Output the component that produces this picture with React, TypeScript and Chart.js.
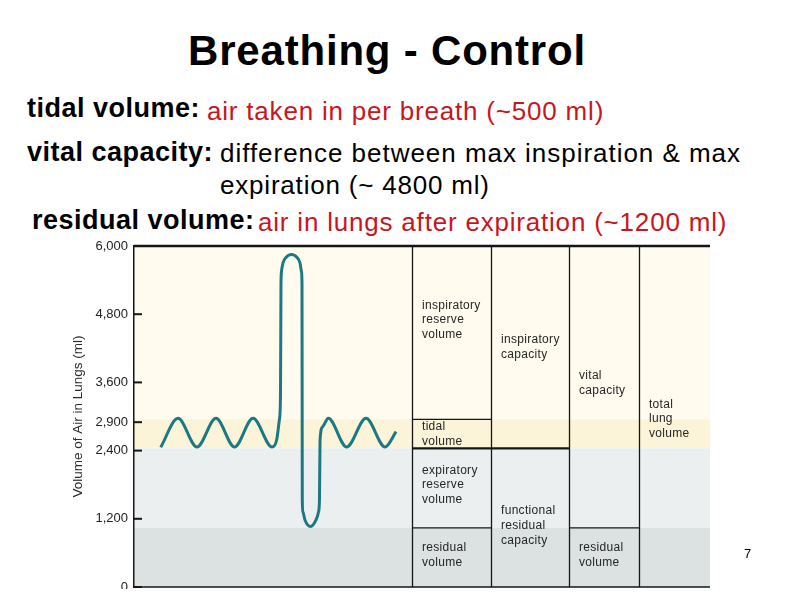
import React, { useEffect, useRef } from "react";
import { Chart, registerables } from "chart.js";

Chart.register(...registerables);

// ---- data ----
const yTickValues = [0, 1200, 2400, 2900, 3600, 4800, 6000];

// spirometer trace: time (s) and lung volume (ml)
const traceTime = [
  2.78, 4.58, 6.56, 8.54, 10.47, 12.4, 14.38, 14.86, 15.14, 15.26, 15.31, 15.36,
  15.52, 15.83, 16.41, 16.98, 17.29, 17.45, 17.5, 17.53, 17.6, 17.81, 18.39,
  18.96, 19.22, 19.32, 19.38, 19.66, 20.24, 22.15, 24.17, 26.15, 27.3,
];
const traceVolume = [
  2458, 2968, 2463, 2968, 2463, 2968, 2463, 2587, 2939, 3378, 5314, 5543, 5701,
  5798, 5851, 5798, 5701, 5543, 5314, 1531, 1320, 1179, 1065, 1179, 1320, 1531,
  2587, 2821, 2968, 2463, 2968, 2463, 2733,
];

// shaded bands (volume boundaries, ml)
const bandEdges = [6000, 2950, 2440, 1040, 0];

// table columns (time positions of column borders)
const columnEdges = [28.96, 37.19, 45.31, 52.6, 60];

// horizontal dividers inside the table
const dividerFromCol = [0, 0, 0, 2];
const dividerToCol = [0, 1, 0, 2];
const dividerVolume = [2950, 2440, 1040, 1040];
const dividerHeavy = [false, true, false, false];

// labels in the table
const labelColumn = [0, 0, 0, 0, 1, 1, 2, 2, 3];
const labelVolume = [4700, 2690, 1795, 563, 4223, 1079, 3583, 563, 2956];
const labelLines = [
  ["inspiratory", "reserve", "volume"],
  ["tidal", "volume"],
  ["expiratory", "reserve", "volume"],
  ["residual", "volume"],
  ["inspiratory", "capacity"],
  ["functional", "residual", "capacity"],
  ["vital", "capacity"],
  ["residual", "volume"],
  ["total", "lung", "volume"],
];

// ---- styles ----
const BAND_COLORS = ["#fffcef", "#fcf4d8", "#ebeff0", "#dce1e2"];
const TRACE_COLOR = "#1c7883";
const FONT = '"Liberation Sans", Arial, sans-serif';
const RED = "#c8161d";

const fmt = (v: number) => String(v).replace(/\B(?=(\d{3})+(?!\d))/g, ",");

const diagramPlugin = {
  id: "diagram",
  beforeDraw(chart: any) {
    const { ctx, chartArea, scales } = chart;
    const y = scales.y;
    ctx.save();
    for (let i = 0; i < BAND_COLORS.length; i++) {
      const y0 = y.getPixelForValue(bandEdges[i]);
      const y1 = y.getPixelForValue(bandEdges[i + 1]);
      ctx.fillStyle = BAND_COLORS[i];
      ctx.fillRect(chartArea.left, y0, chartArea.right - chartArea.left, y1 - y0);
    }
    ctx.restore();
  },
  afterDatasetsDraw(chart: any) {
    const { ctx, chartArea, scales } = chart;
    const x = scales.x;
    const y = scales.y;
    ctx.save();
    ctx.strokeStyle = "#161616";
    ctx.lineWidth = 1.3;
    for (let i = 0; i < columnEdges.length - 1; i++) {
      const px = Math.round(x.getPixelForValue(columnEdges[i])) + 0.5;
      ctx.beginPath();
      ctx.moveTo(px, chartArea.top);
      ctx.lineTo(px, chartArea.bottom);
      ctx.stroke();
    }
    for (let i = 0; i < dividerVolume.length; i++) {
      const x0 = x.getPixelForValue(columnEdges[dividerFromCol[i]]);
      const x1 = x.getPixelForValue(columnEdges[dividerToCol[i] + 1]);
      const py = y.getPixelForValue(dividerVolume[i]);
      ctx.lineWidth = dividerHeavy[i] ? 2.4 : 1.2;
      ctx.beginPath();
      ctx.moveTo(x0, py);
      ctx.lineTo(x1, py);
      ctx.stroke();
    }
    ctx.lineWidth = 2.6;
    let py = y.getPixelForValue(6000);
    ctx.beginPath();
    ctx.moveTo(chartArea.left, py);
    ctx.lineTo(chartArea.right, py);
    ctx.stroke();
    ctx.lineWidth = 1.5;
    py = y.getPixelForValue(0);
    ctx.beginPath();
    ctx.moveTo(chartArea.left, py);
    ctx.lineTo(chartArea.right, py);
    ctx.stroke();
    ctx.lineWidth = 2;
    for (const v of yTickValues) {
      const ty = y.getPixelForValue(v);
      ctx.beginPath();
      ctx.moveTo(chartArea.left - 1, ty);
      ctx.lineTo(chartArea.left + 8, ty);
      ctx.stroke();
    }
    ctx.fillStyle = "#262626";
    ctx.font = `12px ${FONT}`;
    (ctx as any).letterSpacing = "0.3px";
    ctx.textAlign = "left";
    ctx.textBaseline = "middle";
    const lh = 14.6;
    for (let i = 0; i < labelLines.length; i++) {
      const lines = labelLines[i];
      const lx = x.getPixelForValue(columnEdges[labelColumn[i]]) + 10;
      const cy = y.getPixelForValue(labelVolume[i]);
      const startY = cy - ((lines.length - 1) * lh) / 2;
      lines.forEach((t, k) => ctx.fillText(t, lx, startY + k * lh));
    }
    ctx.restore();
  },
};

function SpiroChart() {
  const ref = useRef<HTMLCanvasElement>(null);
  useEffect(() => {
    if (!ref.current) return;
    const chart = new Chart(ref.current, {
      type: "line",
      data: {
        datasets: [
          {
            data: traceTime.map((t, i) => ({ x: t, y: traceVolume[i] })),
            borderColor: TRACE_COLOR,
            borderWidth: 3,
            pointRadius: 0,
            fill: false,
            cubicInterpolationMode: "monotone",
          },
        ],
      },
      options: {
        animation: false,
        responsive: false,
        devicePixelRatio: 1,
        layout: { padding: { left: 70, right: 84, top: 10, bottom: 9 } },
        plugins: { legend: { display: false }, tooltip: { enabled: false } },
        scales: {
          x: { type: "linear", min: 0, max: 60, display: false },
          y: {
            type: "linear",
            min: 0,
            max: 6000,
            afterFit: (s: any) => {
              s.width = 64;
              s.paddingTop = 0;
              s.paddingBottom = 0;
            },
            afterBuildTicks: (s: any) => {
              s.ticks = yTickValues.map((v) => ({ value: v }));
            },
            grid: { display: false, drawTicks: false },
            border: { display: true, color: "#161616", width: 1.5 },
            ticks: {
              padding: 6,
              color: "#222",
              font: { family: FONT, size: 13 },
              callback: (v: any) => fmt(Number(v)),
            },
            title: {
              display: true,
              text: "Volume of Air in Lungs (ml)",
              color: "#2a2a2a",
              font: { family: FONT, size: 13.5 },
              padding: { top: 0, bottom: 0 },
            },
          },
        },
      },
      plugins: [diagramPlugin],
    });
    return () => chart.destroy();
  }, []);
  return <canvas ref={ref} width={794} height={360} style={{ display: "block" }} />;
}

const textBase: React.CSSProperties = {
  position: "absolute",
  fontFamily: FONT,
  lineHeight: 1,
  whiteSpace: "nowrap",
  margin: 0,
};

function Piece(props: { text: string; left: number; baseline: number; size: number; bold?: boolean; color?: string; spacing?: number }) {
  const { text, left, baseline, size, bold, color, spacing } = props;
  const top = baseline - 0.8465 * size;
  return (
    <div
      style={{
        ...textBase,
        left,
        top,
        fontSize: size,
        fontWeight: bold ? "bold" : "normal",
        color: color || "#000",
        letterSpacing: spacing ?? 0,
      }}
    >
      {text}
    </div>
  );
}

export default function App() {
  return (
    <div style={{ position: "absolute", left: 0, top: 0, width: 794, height: 596, background: "#fff", overflow: "hidden" }}>
      <div
        style={{
          ...textBase,
          left: 0,
          width: 774,
          textAlign: "center",
          top: 66 - 0.8465 * 42,
          fontSize: 42,
          fontWeight: "bold",
          letterSpacing: 0.8,
        }}
      >
        Breathing - Control
      </div>
      <Piece text="tidal volume:" left={27} baseline={118} size={27} bold spacing={0.5} />
      <Piece text="air taken in per breath (~500 ml)" left={207} baseline={120} size={26} color={RED} spacing={0.8} />
      <Piece text="vital capacity:" left={27} baseline={162} size={27} bold spacing={0.5} />
      <Piece text="difference between max inspiration & max" left={220} baseline={162} size={26} spacing={0.97} />
      <Piece text="expiration (~ 4800 ml)" left={220} baseline={194} size={26} spacing={0.8} />
      <Piece text="residual volume:" left={32} baseline={230} size={27} bold spacing={0.5} />
      <Piece text="air in lungs after expiration (~1200 ml)" left={258} baseline={231} size={26} color={RED} spacing={0.8} />
      <div style={{ position: "absolute", left: 0, top: 236, width: 794, height: 353, overflow: "hidden" }}>
        <SpiroChart />
      </div>
      <Piece text="7" left={744} baseline={558} size={13} />
    </div>
  );
}
